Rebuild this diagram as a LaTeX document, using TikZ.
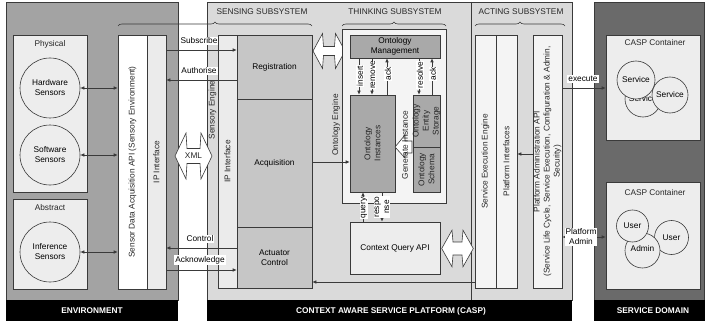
\documentclass[tikz,border=0pt]{standalone}
\usepackage{fontspec}
\setmainfont{Liberation Sans}
\usetikzlibrary{arrows.meta,decorations.pathreplacing}
\definecolor{linec}{HTML}{3A3A3A}
\definecolor{envgray}{HTML}{A3A3A3}
\definecolor{caspgray}{HTML}{DADADA}
\definecolor{svcgray}{HTML}{6A6A6A}
\definecolor{lightbox}{HTML}{EDEDED}
\definecolor{sengray}{HTML}{C6C6C6}
\definecolor{ontgray}{HTML}{A9A9A9}
\definecolor{thinkbg}{HTML}{F4F4F4}
\definecolor{ipgray}{HTML}{EBEBEB}
\newcommand\myfont{\fontsize{8.3}{10}\selectfont}
\newcommand\dblarr[7]{%
  \draw[dblarrow, shift={(#1,#2)}] (-#3,0) -- (-#4-1,-#5) -- (-#4,-#6) -- (#4,-#6) -- (#4+1,-#5) -- (#3,0)
     -- (#4+1,#5) -- (#4,#6) -- (-#4,#6) -- (-#4-1,#5) -- cycle;
  \node[txt] (#7) at (#1,#2) {};}
\begin{document}
\begin{tikzpicture}[x=1pt,y=-1pt,
  panel/.style={draw=linec, line width=0.6pt},
  box/.style={draw=linec, line width=0.6pt, inner sep=0pt, align=center, font=\myfont},
  txt/.style={font=\myfont, align=center, inner sep=0pt, text=black!85},
  lbl/.style={fill=white, inner sep=1pt, font=\myfont, align=center},
  vlbl/.style={fill=white, inner sep=0.6pt, font=\myfont, align=center, rotate=90},
  bartxt/.style={font=\myfont\bfseries, text=white, inner sep=0pt},
  arr/.style={draw=linec, line width=0.6pt, -{Latex[length=4pt,width=3.5pt]}},
  darr/.style={draw=linec, line width=0.6pt, {Latex[length=4pt,width=3.5pt]}-{Latex[length=4pt,width=3.5pt]}},
  dblarrow/.style={draw=linec, line width=0.6pt, fill=white},
  brc/.style={draw=linec, line width=0.6pt, decorate, decoration={brace, amplitude=4pt}}]
\useasboundingbox (0,0) rectangle (705,321);
\fill[white] (0,0) rectangle (705,321);
% ---------------- panels
\draw[panel, fill=envgray] (6,2) rectangle (178,300);
\fill[black] (6,300) rectangle (178,321);
\node[bartxt] (envbar) at (92,311) {ENVIRONMENT};
\draw[panel, fill=caspgray] (207,2) rectangle (572,300);
\draw[panel] (471,2) -- (471,300);
\fill[black] (207,300) rectangle (572,321);
\node[bartxt] (caspbar) at (391,311) {CONTEXT AWARE SERVICE PLATFORM (CASP)};
\draw[panel, fill=svcgray] (594,2) rectangle (704.6,300);
\fill[black] (594,300) rectangle (705,321);
\node[bartxt] (svcbar) at (653,311) {SERVICE DOMAIN};
% ---------------- headers and braces
\node[txt] (hsens) at (262,12) {SENSING SUBSYSTEM};
\node[txt] (hthink) at (395,12) {THINKING SUBSYSTEM};
\node[txt] (hact) at (521,12) {ACTING SUBSYSTEM};
\draw[brc] (118,26) -- (312,26);
\draw[brc] (342,26) -- (446,26);
\draw[brc] (475,26) -- (565,26);
% ---------------- environment
\node[box, fill=lightbox, minimum width=74, minimum height=157] (phys) at (50,113.5) {};
\node[txt] (physl) at (50,44) {Physical};
\node[box, fill=lightbox, minimum width=74, minimum height=90] (abst) at (50,244) {};
\node[txt] (abstl) at (50,208) {Abstract};
\node[box, circle, fill=lightbox, minimum size=60] (hw) at (50,88) {Hardware\\Sensors};
\node[box, circle, fill=lightbox, minimum size=60] (sw) at (50,155) {Software\\Sensors};
\node[box, circle, fill=lightbox, minimum size=60] (inf) at (50,252) {Inference\\Sensors};
\node[box, fill=white, minimum width=29, minimum height=254] (sdaapi) at (132.5,162) {};
\node[txt, rotate=90] (sdaapit) at (sdaapi.center) {Sensor Data Acquisition API (Sensory Environment)};
\node[box, fill=ipgray, minimum width=19, minimum height=254] (ipenv) at (156.5,162) {};
\node[txt, rotate=90] (ipenvt) at (ipenv.center) {IP Interface};
\draw[darr] (hw.east) -- (hw.east -| sdaapi.west);
\draw[darr] (sw.east) -- (sw.east -| sdaapi.west);
\draw[darr] (inf.east) -- (inf.east -| sdaapi.west);
% ---------------- sensing
\node[txt, rotate=90] (sengt) at (212.5,110) {Sensory Engine};
\node[box, fill=ipgray, minimum width=19, minimum height=253] (ipsens) at (227.5,161.5) {};
\node[txt, rotate=90] (ipsenst) at (ipsens.center) {IP Interface};
\node[box, fill=sengray, minimum width=75, minimum height=64] (reg) at (274.5,67) {Registration};
\node[box, fill=sengray, minimum width=75, minimum height=128] (acq) at (274.5,163) {Acquisition};
\node[box, fill=sengray, minimum width=75, minimum height=61] (act) at (274.5,257.5) {Actuator\\Control};
\coordinate (ySub) at (0,50);
\coordinate (yAut) at (0,80);
\coordinate (yCtl) at (0,248);
\coordinate (yAck) at (0,270);
\draw[arr] (ipenv.east |- ySub) -- (reg.west |- ySub);
\draw[arr] (reg.west |- yAut) -- (ipenv.east |- yAut);
\draw[arr] (act.west |- yCtl) -- (ipenv.east |- yCtl);
\draw[arr] (ipenv.east |- yAck) -- (act.west |- yAck);
\node[lbl] (lsub) at (199,41) {Subscribe};
\node[lbl] (laut) at (199,71) {Authorise};
\node[lbl] (lctl) at (200,239) {Control};
\node[lbl] (lack) at (200,260) {Acknowledge};
\dblarr{193.5}{156}{18.5}{6.5}{23}{7.5}{xmlarr}
\node[txt] (xml) at (193.5,156) {XML};
\dblarr{329}{51}{16}{5.5}{17.5}{4.5}{starr}
% ---------------- thinking
\node[txt, rotate=90] (oengt) at (336,125) {Ontology Engine};
\node[box, fill=thinkbg, minimum width=104, minimum height=174] (think) at (394,116) {};
\node[box, fill=ontgray, minimum width=90, minimum height=23] (omgmt) at (395,46.5) {Ontology\\Management};
\node[box, fill=ontgray, minimum width=45, minimum height=97] (oinst) at (372.5,143.5) {};
\node[txt, rotate=90] (oinstt) at (oinst.center) {Ontology\\Instances};
\node[box, fill=ontgray, minimum width=27, minimum height=52] (ostore) at (426.5,121) {};
\node[txt, rotate=90] (ostoret) at (ostore.center) {Ontology\\Entity\\Storage};
\node[box, fill=ontgray, minimum width=27, minimum height=45] (oschema) at (426.5,169.5) {};
\node[txt, rotate=90] (oschemat) at (oschema.center) {Ontology\\Schema};
\draw[dblarrow] (412,141) -- (405,141) -- (405,135) -- (395,147) -- (405,158) -- (405,153) -- (412,153) -- cycle;
\node[txt, rotate=90] (geninst) at (405,145) {Generate Instance};
\node[box, fill=lightbox, minimum width=90, minimum height=52] (cqapi) at (395,248) {Context Query API};
\coordinate (xIns) at (359,0);
\coordinate (xRem) at (372,0);
\coordinate (xAck) at (387,0);
\coordinate (xRes) at (419,0);
\coordinate (xAckb) at (432,0);
\coordinate (xQ) at (363,0);
\coordinate (xR) at (382,0);
\coordinate (yAcq) at (0,162);
\draw[arr] (omgmt.south -| xIns) -- (oinst.north -| xIns);
\draw[arr] (omgmt.south -| xRem) -- (oinst.north -| xRem);
\draw[arr] (oinst.north -| xAck) -- (omgmt.south -| xAck);
\draw[arr] (omgmt.south -| xRes) -- (ostore.north -| xRes);
\draw[arr] (ostore.north -| xAckb) -- (omgmt.south -| xAckb);
\node[vlbl] (lins) at (360,76) {insert};
\node[vlbl] (lrem) at (373,75) {remove};
\node[vlbl] (lack1) at (388,74) {ack};
\node[vlbl] (lres) at (420,75) {resolve};
\node[vlbl] (lack2) at (433,74) {ack};
\draw[arr] (cqapi.north -| xQ) -- (oinst.south -| xQ);
\draw[arr] (oinst.south -| xR) -- (cqapi.north -| xR);
\node[vlbl] (lq) at (364,208) {query};
\node[vlbl] (lr) at (382,207) {respo\\nse};
\draw[arr] (acq.east |- yAcq) -- (oinst.west |- yAcq);
\dblarr{457.5}{248.5}{15.8}{4.5}{18.3}{6.5}{taarr}
% ---------------- acting
\node[box, fill=thinkbg, minimum width=21, minimum height=253] (seeng) at (485.5,161.5) {};
\node[txt, rotate=90] (seengt) at (seeng.center) {Service Execution Engine};
\node[box, fill=thinkbg, minimum width=21, minimum height=253] (platif) at (506.5,161.5) {};
\node[txt, rotate=90] (platift) at (platif.center) {Platform Interfaces};
\node[box, fill=thinkbg, minimum width=29, minimum height=253] (padmin) at (547.5,161.5) {};
\node[txt, rotate=90] (padmint) at (padmin.center) {Platform Administration API\\(Service Life Cycle, Service Execution, Configuration \& Admin,\\Security)};
\coordinate (y282) at (0,282);
\coordinate (y154) at (0,154);
\coordinate (yExe) at (0,88);
\coordinate (yPA) at (0,237);
\draw[arr] (seeng.west |- y282) -- (act.east |- y282);
\draw[arr] (padmin.west |- y154) -- (platif.east |- y154);
% ---------------- service domain
\node[box, fill=lightbox, minimum width=94, minimum height=105] (cont1) at (653,87.5) {};
\node[txt] (cont1l) at (655,43) {CASP Container};
\node[box, circle, fill=lightbox, minimum size=36] (s2) at (643,99) {\rlap{\hspace{-3.2ex}\raisebox{-1.2ex}{Service}}};
\node[box, circle, fill=lightbox, minimum size=38] (s1) at (636,80) {Service};
\node[box, circle, fill=lightbox, minimum size=36] (s3) at (670,95) {Service};
\node[box, fill=lightbox, minimum width=94, minimum height=107] (cont2) at (653,235.5) {};
\node[txt] (cont2l) at (655,193) {CASP Container};
\node[box, circle, fill=lightbox, minimum size=34] (u2) at (671.5,237.5) {User};
\node[box, circle, fill=lightbox, minimum size=35] (adm) at (642.5,250.5) {\raisebox{0.8ex}{Admin}};
\node[box, circle, fill=lightbox, minimum size=32] (u1) at (632.5,226) {User};
\draw[arr] (padmin.east |- yExe) -- (cont1.west |- yExe);
\draw[darr] (padmin.east |- yPA) -- (cont2.west |- yPA);
\node[lbl] (lexe) at (583,79) {execute};
\node[lbl, inner sep=0.8pt] (lpa) at (581,237) {Platform\\Admin};
\end{tikzpicture}
\end{document}
